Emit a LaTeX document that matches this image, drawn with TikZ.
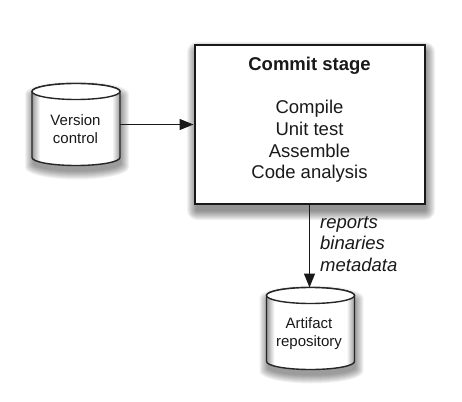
\documentclass[tikz,border=0pt]{standalone}
\usepackage{fontspec}
\setmainfont{Liberation Sans}
\usetikzlibrary{arrows.meta}
\pgfdeclarelayer{paper}
\pgfdeclarelayer{background}
\pgfsetlayers{paper,background,main}
\pgfdeclarehorizontalshading{cylshade}{100bp}{color(0bp)=(black!40); color(25bp)=(black!40); color(29.5bp)=(white); color(70.5bp)=(white); color(75bp)=(black!40); color(100bp)=(black!40)}
% #1 options, #2 cx, #3 cy, #4 half width, #5 half height, #6 ellipse y radius
\newcommand\cylpath[6]{\path[#1] ({#2-(#4)},{#3-(#5)+(#6)}) -- ({#2-(#4)},{#3+(#5)-(#6)}) arc[start angle=180,end angle=360,x radius={(#4)*1pt},y radius={(#6)*1pt}] -- ({#2+(#4)},{#3-(#5)+(#6)}) arc[start angle=0,end angle=180,x radius={(#4)*1pt},y radius={(#6)*1pt}] -- cycle;}
\newcommand\drawcyl[3]{%
  \begin{pgfonlayer}{background}
    \foreach \r in {0,...,8}{\cylpath{fill=black,opacity=0.05}{#2+1}{#3+6}{44+\r}{41+\r}{8+0.5*\r}}
  \end{pgfonlayer}
  \cylpath{cylbody}{#2}{#3}{44}{41}{8}
  \path[cyltop] (#2,{#3-33}) ellipse [x radius=44pt, y radius=8pt];
  \node[cylanchor] (#1) at (#2,#3) {};}
\tikzset{
  cylbody/.style={shade, shading=cylshade, draw=black!85, line width=1.4pt},
  cyltop/.style={fill=white, draw=black!85, line width=1.4pt},
  cylanchor/.style={minimum width=88pt, minimum height=82pt, inner sep=0pt, outer sep=0pt},
  commitbox/.style={draw=black!90, fill=white, line width=2pt, minimum width=230pt, minimum height=159pt, inner sep=0pt},
  flow/.style={line width=1.3pt, draw=black!90, -{Triangle[length=14pt,width=11pt]}},
  bodytext/.style={font=\fontsize{18.5}{21.6}\selectfont, align=center, inner sep=0pt, text=black!90},
  cyltext/.style={font=\fontsize{15}{18}\selectfont, align=center, inner sep=0pt, text=black!90},
  note/.style={font=\fontsize{18.5}{21.7}\selectfont\itshape, align=left, inner sep=0pt, anchor=west, text=black!90},
}
\begin{document}
\begin{tikzpicture}[x=1pt, y=-1pt]
\begin{pgfonlayer}{paper}
  \fill[white] (0,0) rectangle (462,401);
\end{pgfonlayer}
\useasboundingbox (0,0) rectangle (462,401);
% commit stage box with soft shadow
\begin{pgfonlayer}{background}
  \foreach \r in {0,...,9}{\fill[black, opacity=0.05, rounded corners={(\r+1)*1pt}] ({196-\r},{51-\r}) rectangle ({426+\r},{211+\r});}
\end{pgfonlayer}
\node[commitbox] (commit) at (309.5,124.5) {};
\node[bodytext] (committext) at (309.5,120) {\textbf{Commit stage}\\[21.6pt]Compile\\Unit test\\Assemble\\Code analysis};
% cylinders
\drawcyl{vc}{76}{124.5}
\node[cyltext] (vctext) at (75.5,129.5) {Version\\control};
\drawcyl{art}{310.5}{328.5}
\node[cyltext] (arttext) at (309,334) {Artifact\\repository};
% connectors
\draw[flow] (vc.east) -- (commit.west);
\draw[flow] (commit.south) -- (commit.south |- art.north);
\node[note] (outputs) at (320,244) {reports\\binaries\\metadata};
\end{tikzpicture}
\end{document}
